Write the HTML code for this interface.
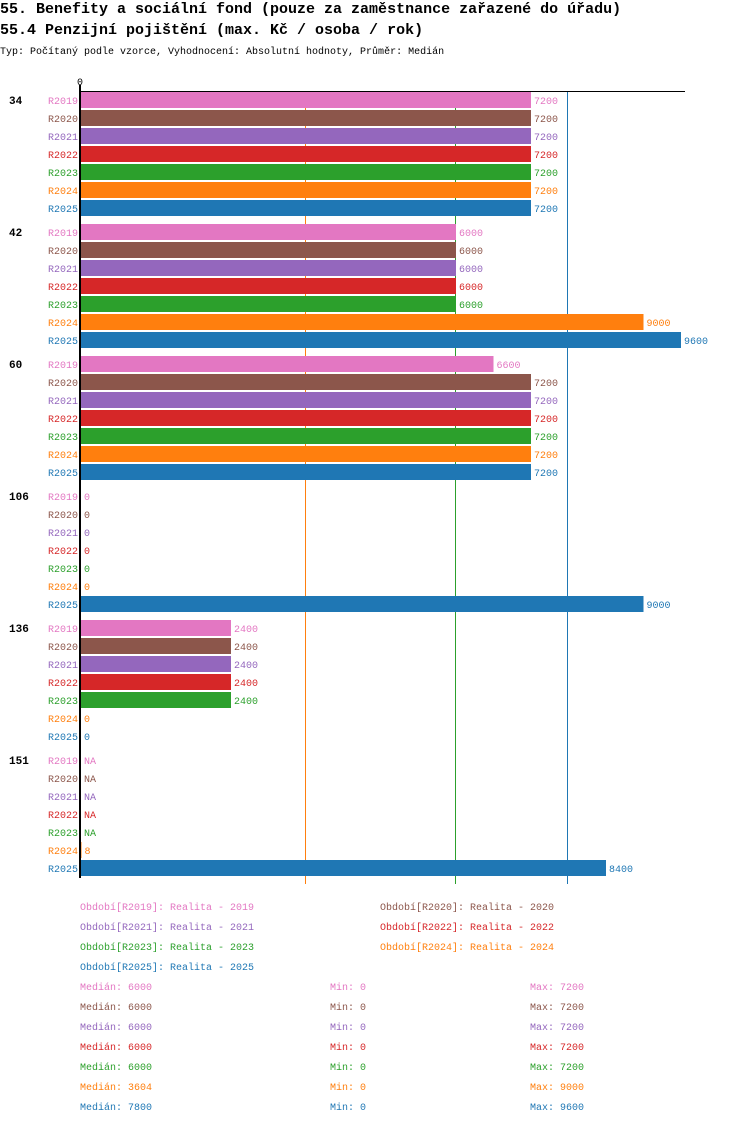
<!DOCTYPE html>
<html><head><meta charset="utf-8"><style>
body{margin:0;background:#fff;width:750px;height:1124px;overflow:hidden;font-family:"Liberation Mono",monospace}
svg text{font-family:"Liberation Mono",monospace}
</style></head><body>
<svg id="c" width="750" height="1124" xmlns="http://www.w3.org/2000/svg">
<text x="0" y="13" font-size="15" font-weight="bold">55. Benefity a sociální fond (pouze za zaměstnance zařazené do úřadu)</text>
<text x="0" y="34" font-size="15" font-weight="bold">55.4 Penzijní pojištění (max. Kč / osoba / rok)</text>
<text x="0" y="54" font-size="10">Typ: Počítaný podle vzorce, Vyhodnocení: Absolutní hodnoty, Průměr: Medián</text>
<text x="77" y="85" font-size="10">0</text>
</svg>
<script>
const groups=["34","42","60","106","136","151"];
const series=["R2019","R2020","R2021","R2022","R2023","R2024","R2025"];
const colors=["#e377c2","#8c564b","#9467bd","#d62728","#2ca02c","#ff7f0e","#1f77b4"];
const values=[
 [7200,7200,7200,7200,7200,7200,7200],
 [6000,6000,6000,6000,6000,9000,9600],
 [6600,7200,7200,7200,7200,7200,7200],
 [0,0,0,0,0,0,9000],
 [2400,2400,2400,2400,2400,0,0],
 [null,null,null,null,null,8,8400]];
const legendLabels=["Realita - 2019","Realita - 2020","Realita - 2021","Realita - 2022","Realita - 2023","Realita - 2024","Realita - 2025"];
const medians=[6000,6000,6000,6000,6000,3604,7800];
const mins=[0,0,0,0,0,0,0];
const maxs=[7200,7200,7200,7200,7200,9000,9600];
const svg=document.getElementById('c');
const NS="http://www.w3.org/2000/svg";
const x0=81,xScale=600/9600;
const X=v=>x0+v*xScale;
const groupTop=g=>92+g*132;
function mk(t,a,txt){const e=document.createElementNS(NS,t);for(const k in a)e.setAttribute(k,a[k]);if(txt!==undefined)e.textContent=txt;svg.appendChild(e);return e;}
[[5,"#ff7f0e"],[0,"#2ca02c"],[6,"#1f77b4"]].forEach(([i,c])=>{
 const px=Math.floor(X(medians[i]))-1;
 const l=mk('rect',{x:px,y:91,width:1,height:793,fill:c});
 
 
});
groups.forEach((g,gi)=>{
 const gl=mk('text',{x:9,y:groupTop(gi)+12,'font-size':11,'font-weight':'bold'},g);
 
 
 series.forEach((s,si)=>{
  const y=groupTop(gi)+si*18;const v=values[gi][si];
  const sl=mk('text',{x:78,y:y+12,'font-size':10,fill:colors[si],'text-anchor':'end'},s);
  
  
  let end=x0;
  if(v!==null&&v>0){const r=mk('rect',{x:x0,y:y,width:X(v)-x0,height:16,fill:colors[si]});
   
   end=X(v);}
  const vl=mk('text',{x:end+3,y:y+12,'font-size':10,fill:colors[si]},v===null?'NA':String(v));
  
  
 });
});
const ax=mk('rect',{x:80,y:91,width:605,height:1,fill:'#000'});


const ay=mk('rect',{x:79,y:85,width:2,height:793,fill:'#000'});


series.forEach((s,i)=>{
 const col=i%2,row=Math.floor(i/2);
 const t=mk('text',{x:col?380:80,y:910+row*20,'font-size':10,fill:colors[i]},'Období['+s+']: '+legendLabels[i]);
 
 
 const y=990+i*20;
 const a=mk('text',{x:80,y:y,'font-size':10,fill:colors[i]},'Medián: '+medians[i]);
 
 
 const b=mk('text',{x:330,y:y,'font-size':10,fill:colors[i]},'Min: '+mins[i]);
 
 
 const c=mk('text',{x:530,y:y,'font-size':10,fill:colors[i]},'Max: '+maxs[i]);
 
 
});
</script>
</body></html>
